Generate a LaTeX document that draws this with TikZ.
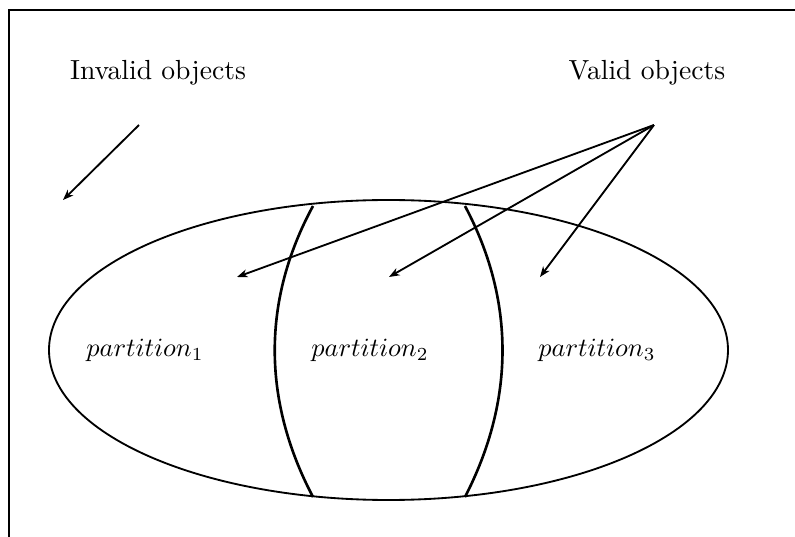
\documentclass[tikz,border=0pt]{standalone}
\usepackage{amsmath}
\usetikzlibrary{positioning,arrows.meta}
\tikzset{
  objarrow/.style={-{Stealth[length=4pt,width=3pt,inset=1.2pt]}, line width=0.7pt},
  cutline/.style={line width=1pt},
  lbl/.style={font=\fontsize{10.5pt}{12pt}\selectfont}
}
\begin{document}
\begin{tikzpicture}[x=0.38pt, y=-0.38pt]
  \useasboundingbox (0,0) rectangle (795,537);
  \draw[line width=0.5pt] (795,10) -- (9,10) -- (9,537);
  % labels
  \node[lbl] (invalid) at (158,73) {Invalid objects};
  \node[lbl] (valid)   at (647,73) {Valid objects};
  % the set of valid objects
  \draw[line width=0.7pt] (388.5,350) ellipse [x radius=339.5, y radius=150];
  \draw[cutline] (313,206) .. controls (262,300) and (262,400) .. (313,497);
  \draw[cutline] (465,206) .. controls (515,300) and (515,400) .. (465,497);
  \node (p1) at (145,350) {$partition_1$};
  \node (p2) at (370,350) {$partition_2$};
  \node (p3) at (597,350) {$partition_3$};
  % arrows
  \coordinate (isrc) at (139,125);
  \coordinate (itgt) at (63,200);
  \coordinate (vsrc) at (654,125);
  \coordinate (t1) at (237,277);
  \coordinate (t2) at (389,277);
  \coordinate (t3) at (540,277);
  \draw[objarrow] (isrc) -- (itgt);
  \foreach \t in {t1,t2,t3}
    \draw[objarrow] (vsrc) -- (\t);
\end{tikzpicture}
\end{document}
